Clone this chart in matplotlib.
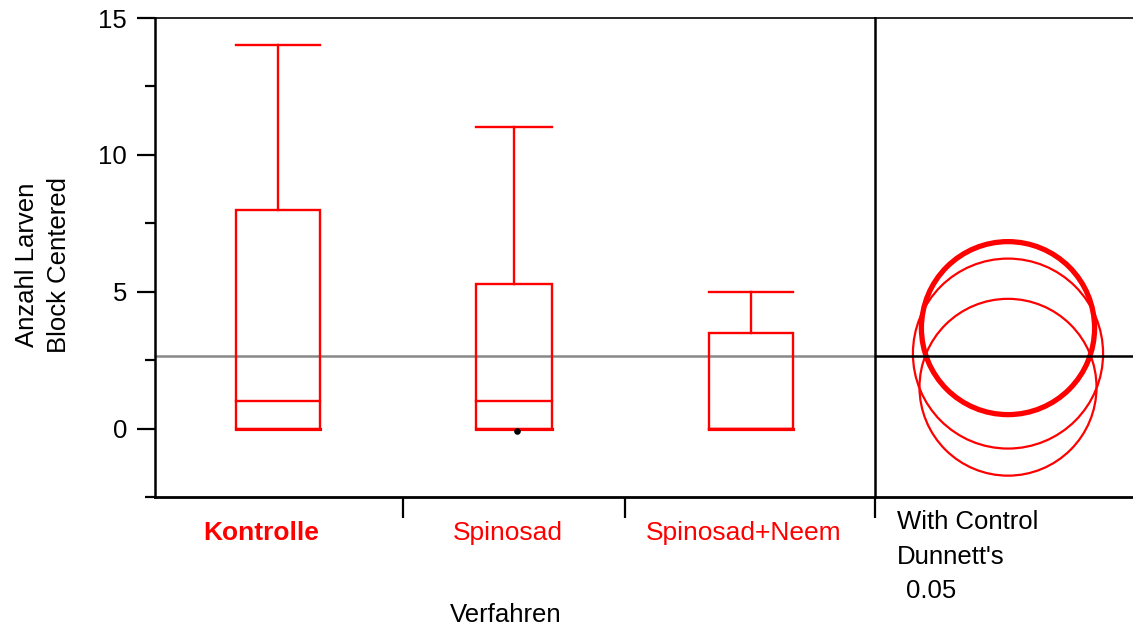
import numpy as np
import matplotlib.pyplot as plt
from matplotlib.patches import Rectangle, Circle

plt.rcParams['font.family'] = ['Liberation Sans', 'DejaVu Sans']

# data
groups = ['Kontrolle', 'Spinosad', 'Spinosad+Neem']
whisker_lo = [0, 0, 0]
q1 = [0, 0, 0]
median = [1, 1, 0]
q3 = [8, 5.27, 3.5]
whisker_hi = [14, 11, 5]
point_x = [1]          # group index of the single plotted point
point_y = [-0.08]
grand_mean = 2.65
circle_centers = [3.67, 2.74, 1.51]   # Kontrolle (control), Spinosad, Spinosad+Neem
circle_radii = [3.16, 3.47, 3.23]

# layout (pixel based)
W, H = 1133, 628
centers = [123, 359, 596]
label_pos = [106, 353, 589]
box_w = [84, 76, 84]
bounds = [248, 470, 720]
px_per_unit = 27.4
RED = '#ff0000'
FS = 18.5

fig = plt.figure(figsize=(W / 100, H / 100), dpi=100)
ax = fig.add_axes([155 / W, 1 - 497 / H, 720 / W, 479 / H])
ax2 = fig.add_axes([875 / W, 1 - 497 / H, 258 / W, 479 / H])
ax2.patch.set_alpha(0)

ax.set_xlim(0, 720)
ax.set_ylim(-2.5, 15)

for i in range(len(groups)):
    c, w = centers[i], box_w[i]
    ax.add_patch(Rectangle((c - w / 2, q1[i]), w, q3[i] - q1[i], fill=False,
                           edgecolor=RED, lw=1.7, zorder=3))
    ax.plot([c - w / 2, c + w / 2], [median[i], median[i]], color=RED, lw=1.7, zorder=3)
    ax.plot([c, c], [q3[i], whisker_hi[i]], color=RED, lw=1.7, zorder=3)
    ax.plot([c - w / 2, c + w / 2], [whisker_hi[i], whisker_hi[i]], color=RED, lw=1.7, zorder=3)
    ax.plot([c - w / 2, c + w / 2], [whisker_lo[i], whisker_lo[i]], color=RED, lw=2.3, zorder=3)

ax.scatter([centers[g] + 3 for g in point_x], point_y, s=14, color='black', zorder=4)
ax.axhline(grand_mean, color='#888888', lw=1.8, zorder=2)

ax.set_yticks([0, 5, 10, 15])
ax.set_yticks([-2.5, 2.5, 7.5, 12.5], minor=True)
ax.tick_params(axis='y', which='major', length=13, width=1.6, labelsize=FS, pad=7)
ax.tick_params(axis='y', which='minor', length=7, width=1.6)

ax.set_xticks(label_pos)
ax.set_xticklabels(groups, fontsize=19, color=RED)
ax.get_xticklabels()[0].set_fontweight('bold')
ax.set_xticks(bounds, minor=True)
ax.tick_params(axis='x', which='major', length=0, pad=17)
ax.tick_params(axis='x', which='minor', length=15, width=1.6)

fig.text(43 / W, 1 - 265 / H, 'Anzahl Larven\nBlock Centered', fontsize=FS,
         rotation=90, ha='center', va='center', linespacing=1.45)
fig.text(506 / W, 1 - 615 / H, 'Verfahren', fontsize=FS, ha='center', va='center')

ax.spines['left'].set_linewidth(1.8)
ax.spines['bottom'].set_linewidth(2.0)
ax.spines['top'].set_linewidth(1.2)
ax.spines['right'].set_visible(False)

# comparison circles panel
ax2.set_xlim(0, 258 / px_per_unit)
ax2.set_ylim(-2.5, 15)
cx = 133 / px_per_unit
for k, (cy, r) in enumerate(zip(circle_centers, circle_radii)):
    ax2.add_patch(Circle((cx, cy), r, fill=False, edgecolor=RED,
                         lw=3.8 if k == 0 else 1.6, zorder=3))
ax2.axhline(grand_mean, color='black', lw=1.8, zorder=4)
ax2.set_xticks([])
ax2.set_yticks([])
ax2.spines['right'].set_visible(False)
ax2.spines['left'].set_linewidth(1.8)
ax2.spines['bottom'].set_linewidth(2.0)
ax2.spines['top'].set_linewidth(1.2)

fig.text(897 / W, 1 - 522 / H, 'With Control', fontsize=FS, va='center', ha='left')
fig.text(897 / W, 1 - 557 / H, "Dunnett's", fontsize=FS, va='center', ha='left')
fig.text(906 / W, 1 - 591 / H, '0.05', fontsize=FS, va='center', ha='left')

fig.savefig('out.png', dpi=100)
